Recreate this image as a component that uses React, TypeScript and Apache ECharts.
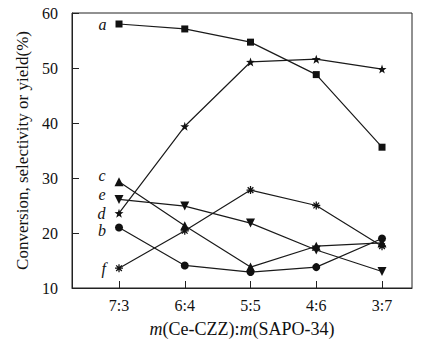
import React, { useEffect, useRef } from "react";
import * as echarts from "echarts";

const categories = ["7:3", "6:4", "5:5", "4:6", "3:7"];
const seriesA = [58.0, 57.1, 54.7, 48.8, 35.6];
const seriesB = [21.0, 14.1, 12.9, 13.8, 19.0];
const seriesC = [29.3, 21.3, 13.8, 17.6, 18.2];
const seriesD = [23.6, 39.4, 51.1, 51.6, 49.8];
const seriesE = [26.1, 24.9, 21.8, 16.9, 13.0];
const seriesF = [13.6, 20.4, 27.8, 25.0, 17.6];
const seriesLetters = ["a", "b", "c", "d", "e", "f"];
const yTicks = [10, 20, 30, 40, 50, 60];

const FONT = "'Liberation Serif', 'DejaVu Serif', serif";

function starPath(): string {
  const pts: string[] = [];
  for (let i = 0; i < 10; i++) {
    const r = i % 2 === 0 ? 10 : 4;
    const a = -Math.PI / 2 + (i * Math.PI) / 5;
    pts.push(`${(r * Math.cos(a)).toFixed(3)},${(r * Math.sin(a)).toFixed(3)}`);
  }
  return "path://M" + pts.join(" L") + " Z";
}

function asteriskPath(): string {
  const parts: string[] = [];
  const L = 10;
  const W = 1.6;
  for (let k = 0; k < 4; k++) {
    const a = (k * Math.PI) / 4;
    const c = Math.cos(a);
    const s = Math.sin(a);
    const corners = [
      [-L, -W],
      [L, -W],
      [L, W],
      [-L, W],
    ].map(([x, y]) => `${(x * c - y * s).toFixed(3)},${(x * s + y * c).toFixed(3)}`);
    parts.push("M" + corners.join(" L") + " Z");
  }
  return "path://" + parts.join(" ");
}

export default function App() {
  const ref = useRef<HTMLDivElement>(null);

  useEffect(() => {
    if (!ref.current) return;
    const chart = echarts.init(ref.current, undefined, { renderer: "svg" });

    const defs = [
      { name: "a", values: seriesA, symbol: "rect", size: 7, rotate: 0, offset: [0, 0] },
      { name: "b", values: seriesB, symbol: "circle", size: 8, rotate: 0, offset: [0, 3] },
      { name: "c", values: seriesC, symbol: "triangle", size: 9, rotate: 0, offset: [0, -6] },
      { name: "d", values: seriesD, symbol: starPath(), size: 9, rotate: 0, offset: [0, 0] },
      { name: "e", values: seriesE, symbol: "triangle", size: 9, rotate: 180, offset: [0, -5] },
      { name: "f", values: seriesF, symbol: asteriskPath(), size: 8, rotate: 0, offset: [0, 0] },
    ];

    const series = defs.map((d, si) => ({
      type: "line",
      name: d.name,
      symbol: d.symbol,
      symbolSize: d.size,
      symbolRotate: d.rotate,
      showAllSymbol: true,
      lineStyle: { color: "#1a1a1a", width: 1.2 },
      itemStyle: { color: "#111", borderWidth: 0 },
      emphasis: { disabled: true },
      z: 2 + si,
      data: d.values.map((v, i) =>
        i === 0
          ? {
              value: [i, v],
              label: {
                show: true,
                formatter: seriesLetters[si],
                position: "left",
                distance: 9,
                offset: d.offset,
                fontFamily: FONT,
                fontStyle: "italic",
                fontSize: 16,
                lineHeight: 9,
                color: "#111",
              },
            }
          : { value: [i, v] }
      ),
    }));

    chart.setOption({
      animation: false,
      backgroundColor: "#fff",
      grid: {
        left: 72,
        right: 15,
        top: 13,
        bottom: 70,
        show: true,
        borderColor: "#222",
        borderWidth: 1,
        backgroundColor: "transparent",
      },
      xAxis: {
        type: "value",
        min: -0.715,
        max: 4.456,
        name: "{i|m}(Ce-CZZ):{i|m}(SAPO-34)",
        nameLocation: "middle",
        nameGap: 32,
        nameTextStyle: {
          fontFamily: FONT,
          fontSize: 18,
          color: "#111",
          rich: {
            i: { fontFamily: FONT, fontSize: 18, fontStyle: "italic", color: "#111" },
          },
        },
        axisLine: { show: true, onZero: false, lineStyle: { color: "#222", width: 1 } },
        axisTick: {
          show: true,
          inside: true,
          length: 7,
          customValues: categories.map((_, i) => i),
          lineStyle: { color: "#222" },
        },
        axisLabel: {
          customValues: categories.map((_, i) => i),
          formatter: (v: number) => categories[Math.round(v)] ?? "",
          fontFamily: FONT,
          fontSize: 16,
          color: "#111",
          margin: 9,
        },
        splitLine: { show: false },
      },
      yAxis: {
        type: "value",
        min: yTicks[0],
        max: yTicks[yTicks.length - 1],
        interval: 10,
        name: "Conversion, selectivity or yield(%)",
        nameLocation: "middle",
        nameGap: 37,
        nameTextStyle: { fontFamily: FONT, fontSize: 17, color: "#111" },
        axisLine: { show: true, onZero: false, lineStyle: { color: "#222", width: 1 } },
        axisTick: { show: true, inside: true, length: 7, lineStyle: { color: "#222" } },
        axisLabel: { fontFamily: FONT, fontSize: 16, color: "#111", margin: 14 },
        splitLine: { show: false },
      },
      series,
    });

    return () => chart.dispose();
  }, []);

  return <div ref={ref} style={{ width: 427, height: 358, position: "absolute", left: 0, top: 0 }} />;
}
